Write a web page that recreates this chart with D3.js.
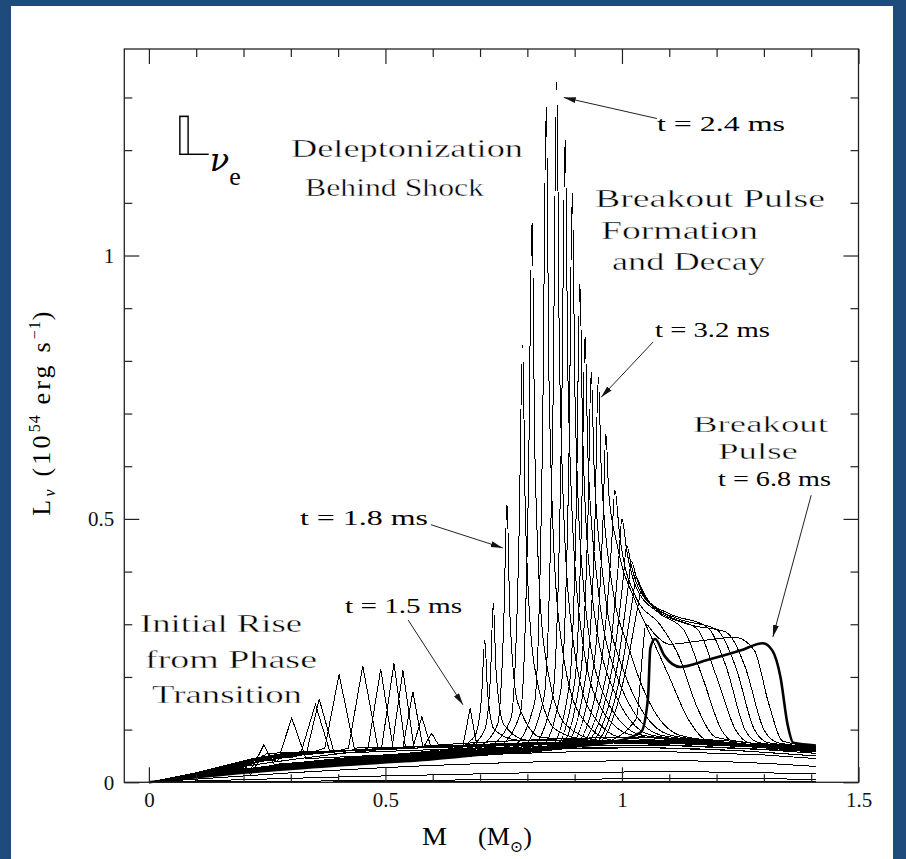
<!DOCTYPE html>
<html>
<head>
<meta charset="utf-8">
<script src="https://cdn.jsdelivr.net/npm/d3@7"></script>
<style>
  html, body { margin: 0; padding: 0; background: #1f4a7c; }
  svg { display: block; }
  .curve { fill: none; stroke: #000; stroke-width: 1; shape-rendering: crispEdges; }
  .bold { stroke-width: 2.6; shape-rendering: auto; }
  .note { font-family: "Liberation Serif", "DejaVu Serif", serif; font-size: 26px; fill: #000; }
  .thin { stroke: #fff; stroke-width: 0.4px; paint-order: fill; }
  .small { font-size: 21px; }
  .mid { font-size: 23px; }
  .tick text { font-family: "Liberation Serif", serif; font-size: 21px; fill: #111; }
  .tick line { stroke: #222; stroke-width: 1.2; }
  .domain { display: none; }
</style>
</head>
<body>
<svg id="chart" width="906" height="859"></svg>
<script>
// ---- axis setup -------------------------------------------------------
const xMajorTicks = [0, 0.5, 1, 1.5];
const xMinorTicks = [0.1, 0.2, 0.3, 0.4, 0.6, 0.7, 0.8, 0.9, 1.1, 1.2, 1.3, 1.4];
const yMajorTicks = [0, 0.5, 1];
const yMinorTicks = [0.1, 0.2, 0.3, 0.4, 0.6, 0.7, 0.8, 0.9, 1.1, 1.2, 1.3];
const xTickLabels = ["0", "0.5", "1", "1.5"];
const yTickLabels = ["0", "0.5", "1"];

// ---- luminosity profiles L(M), pairs of [M (Msun), L (1e54 erg/s)] -----
// smooth profiles before the phase transition sets in
const earlyProfiles = [
  [[0,0],[0.2,0.03],[0.4,0.054],[0.6,0.07],[0.8,0.08],[1.0,0.085],[1.2,0.08],[1.41,0.06]],
  [[0,0],[0.2,0.022],[0.4,0.04],[0.6,0.053],[0.8,0.062],[1.0,0.066],[1.2,0.062],[1.41,0.05]],
  [[0,0],[0.3,0.018],[0.6,0.032],[0.9,0.04],[1.1,0.041],[1.3,0.036],[1.41,0.03]],
  [[0,0],[0.4,0.01],[0.8,0.018],[1.1,0.02],[1.41,0.016]],
  [[0,0],[0.6,0.004],[1.1,0.007],[1.41,0.006]],
  [[0,0],[1.41,0.002]]
];

// spikes launched by the phase transition (t < 1.5 ms)
const transitionProfiles = [
  [[0,0],[0.1,0.012],[0.2,0.026],[0.21,0.018],[0.222,0.034],[0.243,0.071],[0.265,0.034],[0.35,0.04],[0.6,0.05],[0.9,0.058],[1.1,0.058],[1.3,0.052],[1.41,0.045]],
  [[0,0],[0.1,0.013],[0.2,0.028],[0.215,0.014],[0.235,0.045],[0.272,0.04],[0.302,0.122],[0.332,0.045],[0.5,0.052],[0.8,0.062],[1.05,0.066],[1.25,0.06],[1.41,0.05]],
  [[0,0],[0.1,0.013],[0.2,0.03],[0.22,0.022],[0.24,0.05],[0.3,0.047],[0.333,0.055],[0.36,0.158],[0.392,0.055],[0.6,0.062],[0.9,0.07],[1.1,0.07],[1.3,0.062],[1.41,0.055]],
  [[0,0],[0.15,0.02],[0.24,0.04],[0.32,0.052],[0.352,0.148],[0.382,0.06],[0.6,0.066],[1.0,0.075],[1.41,0.058]],
  [[0,0],[0.1,0.014],[0.22,0.035],[0.25,0.055],[0.35,0.058],[0.372,0.065],[0.402,0.205],[0.434,0.065],[0.6,0.068],[0.9,0.075],[1.1,0.074],[1.3,0.066],[1.41,0.058]],
  [[0,0],[0.1,0.014],[0.22,0.036],[0.26,0.05],[0.4,0.06],[0.422,0.065],[0.452,0.221],[0.484,0.066],[0.7,0.07],[1.0,0.076],[1.2,0.072],[1.41,0.058]],
  [[0,0],[0.1,0.015],[0.22,0.038],[0.3,0.05],[0.45,0.062],[0.463,0.064],[0.49,0.215],[0.516,0.066],[0.7,0.07],[1.0,0.077],[1.2,0.072],[1.41,0.06]],
  [[0,0],[0.1,0.015],[0.22,0.04],[0.3,0.052],[0.47,0.063],[0.492,0.066],[0.518,0.226],[0.542,0.068],[0.8,0.073],[1.0,0.077],[1.2,0.073],[1.41,0.06]],
  [[0,0],[0.1,0.016],[0.22,0.041],[0.3,0.053],[0.49,0.064],[0.514,0.066],[0.537,0.213],[0.56,0.068],[0.8,0.074],[1.0,0.078],[1.2,0.074],[1.41,0.061]],
  [[0,0],[0.1,0.016],[0.22,0.042],[0.3,0.054],[0.51,0.064],[0.537,0.066],[0.558,0.172],[0.579,0.068],[0.8,0.074],[1.0,0.078],[1.2,0.074],[1.41,0.062]],
  [[0,0],[0.1,0.017],[0.22,0.043],[0.3,0.055],[0.53,0.064],[0.558,0.066],[0.577,0.124],[0.596,0.068],[0.8,0.075],[1.0,0.079],[1.2,0.075],[1.41,0.063]],
  [[0,0],[0.1,0.017],[0.22,0.044],[0.3,0.056],[0.55,0.064],[0.58,0.066],[0.598,0.093],[0.614,0.068],[0.8,0.075],[1.0,0.079],[1.2,0.075],[1.41,0.063]],
  [[0,0],[0.1,0.018],[0.22,0.045],[0.3,0.057],[0.6,0.066],[0.664,0.07],[0.679,0.14],[0.693,0.072],[0.9,0.077],[1.0,0.08],[1.2,0.076],[1.41,0.064]]
];

// deleptonization peaks riding on the shock (t = 1.6 - 3.2 ms)
const shockProfiles = [
  [[0,0],[0.2,0.025],[0.4,0.045],[0.6,0.06],[0.66,0.068],[0.69,0.09],[0.703,0.16],[0.71,0.27],[0.716,0.17],[0.73,0.1],[0.78,0.08],[1.0,0.078],[1.2,0.072],[1.41,0.058]],
  [[0,0],[0.2,0.025],[0.4,0.045],[0.6,0.06],[0.68,0.07],[0.71,0.1],[0.722,0.2],[0.728,0.34],[0.734,0.21],[0.75,0.11],[0.8,0.08],[1.0,0.078],[1.2,0.072],[1.41,0.058]],
  [[0,0],[0.2,0.024],[0.4,0.044],[0.6,0.058],[0.7,0.07],[0.737,0.11],[0.75,0.3],[0.757,0.53],[0.763,0.32],[0.78,0.15],[0.83,0.085],[1.0,0.078],[1.2,0.072],[1.41,0.058]],
  [[0,0],[0.2,0.024],[0.4,0.043],[0.6,0.057],[0.72,0.07],[0.765,0.12],[0.782,0.45],[0.79,0.83],[0.796,0.5],[0.815,0.22],[0.86,0.1],[0.93,0.08],[1.2,0.073],[1.41,0.06]],
  [[0,0],[0.2,0.023],[0.4,0.042],[0.6,0.056],[0.74,0.07],[0.785,0.13],[0.802,0.55],[0.81,1.07],[0.816,0.62],[0.835,0.26],[0.88,0.11],[0.95,0.08],[1.2,0.073],[1.41,0.06]],
  [[0,0],[0.2,0.023],[0.4,0.041],[0.6,0.055],[0.77,0.07],[0.815,0.15],[0.832,0.65],[0.84,1.285],[0.846,0.75],[0.865,0.32],[0.91,0.13],[0.98,0.08],[1.2,0.074],[1.41,0.061]],
  [[0,0],[0.2,0.022],[0.4,0.04],[0.6,0.054],[0.79,0.07],[0.835,0.16],[0.854,0.7],[0.862,1.33],[0.868,0.8],[0.888,0.34],[0.93,0.14],[1.0,0.085],[1.2,0.075],[1.41,0.062]],
  [[0,0],[0.2,0.022],[0.4,0.04],[0.6,0.053],[0.81,0.07],[0.853,0.16],[0.872,0.66],[0.88,1.225],[0.886,0.76],[0.906,0.35],[0.95,0.15],[1.02,0.09],[1.2,0.075],[1.41,0.062]],
  [[0,0],[0.2,0.021],[0.4,0.039],[0.6,0.052],[0.83,0.07],[0.87,0.17],[0.888,0.62],[0.895,1.12],[0.901,0.72],[0.92,0.36],[0.96,0.17],[1.04,0.09],[1.2,0.076],[1.41,0.063]],
  [[0,0],[0.2,0.021],[0.4,0.038],[0.6,0.051],[0.85,0.07],[0.888,0.18],[0.904,0.55],[0.911,0.95],[0.917,0.66],[0.935,0.37],[0.98,0.18],[1.06,0.09],[1.2,0.076],[1.41,0.063]],
  [[0,0],[0.2,0.02],[0.4,0.037],[0.6,0.05],[0.86,0.07],[0.9,0.19],[0.915,0.52],[0.922,0.85],[0.928,0.62],[0.948,0.38],[0.99,0.2],[1.08,0.09],[1.2,0.077],[1.41,0.064]],
  [[0,0],[0.2,0.02],[0.4,0.036],[0.6,0.049],[0.87,0.07],[0.912,0.2],[0.928,0.5],[0.935,0.78],[0.941,0.6],[0.96,0.39],[1.0,0.22],[1.1,0.09],[1.2,0.078],[1.41,0.064]],
  [[0,0],[0.2,0.02],[0.4,0.036],[0.6,0.049],[0.88,0.072],[0.925,0.21],[0.943,0.5],[0.95,0.77],[0.956,0.6],[0.975,0.4],[1.02,0.24],[1.12,0.09],[1.2,0.078],[1.41,0.064]]
];

// decaying pulse with a widening plateau (t = 3.2 - 6.4 ms)
const decayProfiles = [
  [[0,0],[0.2,0.02],[0.4,0.035],[0.6,0.048],[0.89,0.072],[0.94,0.22],[0.96,0.5],[0.966,0.663],[0.972,0.55],[0.99,0.45],[1.03,0.34],[1.06,0.28],[1.1,0.2],[1.14,0.12],[1.18,0.08],[1.41,0.065]],
  [[0,0],[0.2,0.02],[0.4,0.035],[0.6,0.048],[0.9,0.072],[0.955,0.22],[0.978,0.45],[0.985,0.555],[0.995,0.47],[1.03,0.35],[1.08,0.3],[1.12,0.24],[1.16,0.14],[1.2,0.085],[1.41,0.065]],
  [[0,0],[0.2,0.02],[0.4,0.035],[0.6,0.047],[0.91,0.073],[0.97,0.22],[0.993,0.42],[1.0,0.5],[1.01,0.44],[1.03,0.37],[1.08,0.32],[1.13,0.29],[1.17,0.2],[1.21,0.1],[1.24,0.075],[1.41,0.065]],
  [[0,0],[0.2,0.019],[0.4,0.034],[0.6,0.047],[0.92,0.073],[0.98,0.22],[1.003,0.39],[1.01,0.45],[1.02,0.41],[1.04,0.36],[1.1,0.315],[1.16,0.29],[1.2,0.2],[1.24,0.1],[1.27,0.075],[1.41,0.066]],
  [[0,0],[0.2,0.019],[0.4,0.034],[0.6,0.046],[0.93,0.074],[0.99,0.22],[1.013,0.37],[1.02,0.42],[1.03,0.39],[1.05,0.35],[1.1,0.32],[1.18,0.295],[1.22,0.22],[1.26,0.1],[1.29,0.075],[1.41,0.066]],
  [[0,0],[0.2,0.019],[0.4,0.034],[0.6,0.046],[0.94,0.074],[1.0,0.22],[1.023,0.35],[1.03,0.39],[1.04,0.37],[1.06,0.34],[1.12,0.31],[1.2,0.29],[1.24,0.22],[1.28,0.1],[1.31,0.075],[1.41,0.067]],
  [[0,0],[0.2,0.018],[0.4,0.033],[0.6,0.045],[0.95,0.075],[1.01,0.22],[1.033,0.33],[1.04,0.36],[1.05,0.35],[1.07,0.33],[1.14,0.3],[1.22,0.285],[1.26,0.22],[1.3,0.1],[1.33,0.075],[1.41,0.067]],
  [[0,0],[0.2,0.018],[0.4,0.033],[0.6,0.045],[0.96,0.075],[1.03,0.12],[1.045,0.26],[1.05,0.3],[1.07,0.28],[1.1,0.262],[1.16,0.268],[1.24,0.275],[1.28,0.25],[1.31,0.15],[1.34,0.078],[1.41,0.068]]
];

// the breakout pulse itself, t = 6.8 ms
const breakoutProfile = [[0,0],[0.2,0.018],[0.4,0.032],[0.6,0.044],[0.8,0.062],[0.97,0.075],[1.04,0.095],[1.055,0.16],[1.06,0.255],[1.07,0.272],[1.09,0.24],[1.123,0.219],[1.18,0.232],[1.25,0.25],[1.298,0.264],[1.318,0.25],[1.335,0.2],[1.35,0.11],[1.362,0.075],[1.41,0.07]];

// ---- drawing -------------------------------------------------------------
const W = 906, H = 859;
const plot = { left: 124.3, right: 858.5, top: 49, bottom: 782.3 };

const svg = d3.select("#chart");
svg.append("rect").attr("x", 11).attr("y", 6).attr("width", 882).attr("height", H - 6).attr("fill", "#fff");

const x = d3.scaleLinear().domain([-0.052, 1.5]).range([plot.left, plot.right]);
const y = d3.scaleLinear().domain([0, 1.392]).range([plot.bottom, plot.top]);

const smooth = d3.line().x(d => x(d[0])).y(d => y(d[1])).curve(d3.curveMonotoneX);
const straight = d3.line().x(d => x(d[0])).y(d => y(d[1]));

const curves = svg.append("g");
curves.selectAll("path.early").data(earlyProfiles).join("path")
  .attr("class", "curve early").attr("d", smooth);
curves.selectAll("path.spike").data(transitionProfiles).join("path")
  .attr("class", "curve spike").attr("d", straight);
curves.selectAll("path.shock").data([...shockProfiles, ...decayProfiles]).join("path")
  .attr("class", "curve shock").attr("d", smooth);
curves.append("path").datum(breakoutProfile).attr("class", "curve bold").attr("d", smooth);

// frame
svg.append("rect").attr("x", plot.left).attr("y", plot.top)
  .attr("width", plot.right - plot.left).attr("height", plot.bottom - plot.top)
  .attr("fill", "none").attr("stroke", "#222").attr("stroke-width", 1.3);

// axes: labelled major ticks and short minor ticks on all four sides
function addAxis(axisFn, scale, ticks, labels, size, transform) {
  const ax = axisFn(scale).tickValues(ticks).tickSize(-size).tickPadding(labels ? 10 : 0)
    .tickFormat(labels ? ((d, i) => labels[i]) : () => "");
  svg.append("g").attr("transform", transform).call(ax);
}
addAxis(d3.axisBottom, x, xMajorTicks, xTickLabels, 15, `translate(0,${plot.bottom})`);
addAxis(d3.axisBottom, x, xMinorTicks, null, 8, `translate(0,${plot.bottom})`);
addAxis(d3.axisTop, x, xMajorTicks, null, 15, `translate(0,${plot.top})`);
addAxis(d3.axisTop, x, xMinorTicks, null, 8, `translate(0,${plot.top})`);
addAxis(d3.axisLeft, y, yMajorTicks, yTickLabels, 15, `translate(${plot.left},0)`);
addAxis(d3.axisLeft, y, yMinorTicks, null, 8, `translate(${plot.left},0)`);
addAxis(d3.axisRight, y, yMajorTicks, null, 15, `translate(${plot.right},0)`);
addAxis(d3.axisRight, y, yMinorTicks, null, 8, `translate(${plot.right},0)`);

// axis titles
svg.append("text").attr("class", "note").attr("font-size", 24)
  .attr("x", 422).attr("y", 845).attr("textLength", 25).attr("lengthAdjust", "spacingAndGlyphs").text("M");
const xt = svg.append("text").attr("class", "note").attr("font-size", 24)
  .attr("x", 478).attr("y", 845);
xt.append("tspan").text("(M");
xt.append("tspan").attr("font-size", 16).attr("dy", 7).text("⊙");
xt.append("tspan").attr("dy", -7).text(")");

const yt = svg.append("text").attr("class", "note").attr("font-size", 24)
  .attr("letter-spacing", 3.2)
  .attr("transform", "translate(50,412) rotate(-90)").attr("text-anchor", "middle");
yt.append("tspan").text("L");
yt.append("tspan").attr("font-size", 16).attr("dy", 5).attr("font-style", "italic").text("ν");
yt.append("tspan").attr("dy", -5).text(" (10");
yt.append("tspan").attr("font-size", 16).attr("dy", -10).attr("letter-spacing", 1).text("54");
yt.append("tspan").attr("dy", 10).text(" erg s");
yt.append("tspan").attr("font-size", 16).attr("dy", -10).attr("letter-spacing", 1).text("−1");
yt.append("tspan").attr("dy", 10).text(")");

// panel symbol
const sym = svg.append("text").attr("class", "note").attr("x", 173).attr("y", 155);
sym.append("tspan").attr("font-family", "DejaVu Sans").attr("font-size", 56)
  .attr("stroke", "#fff").attr("stroke-width", 1.2).text("𝕃");
sym.append("tspan").attr("font-family", "DejaVu Serif").attr("font-size", 32).attr("font-style", "italic").attr("dy", 16).text("ν");
sym.append("tspan").attr("font-size", 26).attr("dy", 14).text("e");

// annotations: text, x, baseline, width, style classes
const notes = [
  ["Deleptonization", 291, 157, 232, "thin"], ["Behind Shock", 305, 196, 179, "thin"],
  ["t = 2.4 ms", 657, 131, 128, "small"],
  ["Breakout Pulse", 595, 207, 230, "thin"], ["Formation", 601, 239, 157, "thin"], ["and Decay", 612, 270, 154, "thin"],
  ["t = 3.2 ms", 655, 337, 115, "small"],
  ["Breakout", 693, 432, 135, "mid thin"], ["Pulse", 718, 459, 80, "mid thin"], ["t = 6.8 ms", 718, 486, 113, "small"],
  ["t = 1.8 ms", 300, 525, 128, "small"], ["t = 1.5 ms", 345, 613, 117, "small"],
  ["Initial Rise", 140, 632, 162, "thin"], ["from Phase", 145, 668, 172, "thin"], ["Transition", 152, 703, 150, "thin"]
];
svg.selectAll("text.ann").data(notes).join("text").attr("class", d => "note ann " + d[4])
  .attr("x", d => d[1]).attr("y", d => d[2]).attr("textLength", d => d[3])
  .attr("lengthAdjust", "spacingAndGlyphs").text(d => d[0]);

// arrows: [M, L] of tail and tip
const arrows = [
  [[1.074, 1.26], [0.877, 1.30]],
  [[1.066, 0.836], [0.956, 0.731]],
  [[1.40, 0.545], [1.319, 0.276]],
  [[0.596, 0.489], [0.748, 0.445]],
  [[0.548, 0.308], [0.664, 0.147]]
];
svg.append("defs").append("marker").attr("id", "head")
  .attr("viewBox", "0 0 12 6").attr("refX", 12).attr("refY", 3)
  .attr("markerWidth", 12).attr("markerHeight", 6).attr("markerUnits", "userSpaceOnUse")
  .attr("orient", "auto")
  .append("path").attr("d", "M0,0 L12,3 L0,6 Z").attr("fill", "#111");
svg.selectAll("line.arrow").data(arrows).join("line").attr("class", "arrow")
  .attr("x1", d => x(d[0][0])).attr("y1", d => y(d[0][1]))
  .attr("x2", d => x(d[1][0])).attr("y2", d => y(d[1][1]))
  .attr("stroke", "#222").attr("stroke-width", 1).attr("marker-end", "url(#head)");
</script>
</body>
</html>
